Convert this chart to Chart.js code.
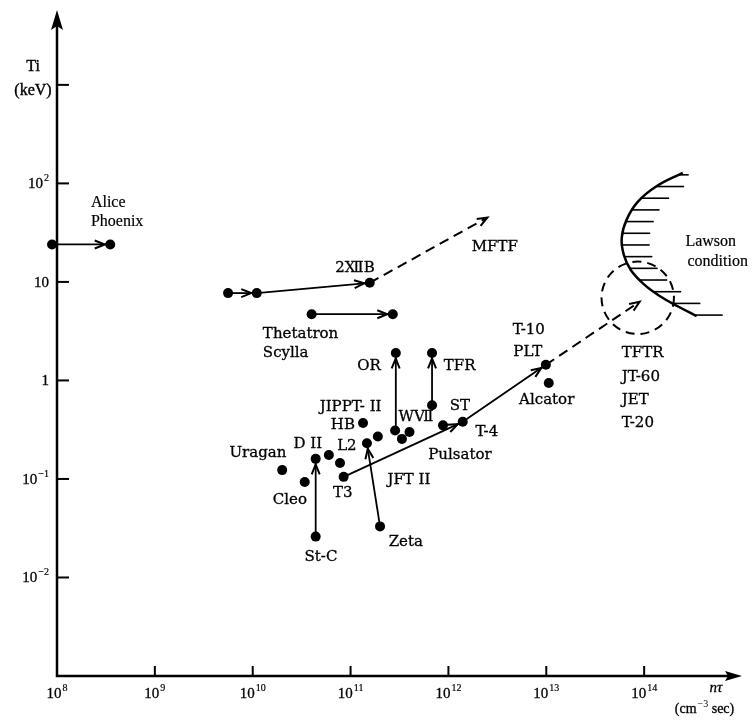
<!DOCTYPE html>
<html><head><meta charset="utf-8">
<script src="https://cdn.jsdelivr.net/npm/chart.js@4.4.0/dist/chart.umd.min.js"></script>
<style>html,body{margin:0;padding:0;background:#fff;}#wrap{width:753px;height:728px;}
.pre{position:absolute;left:-1000px;top:0;}
</style>
</head><body>
<span class="pre" style="font-family:'DejaVu Serif'">Pulsator ⅫⅦ</span>
<span class="pre" style="font-family:'Liberation Serif'">Phoenix 10</span>
<span class="pre" style="font-family:'Liberation Serif';font-style:italic">nτ</span>
<div id="wrap"><canvas id="c" width="753" height="728"></canvas></div>
<script>
// ---------- data (nτ in cm^-3 s, Ti in keV) ----------
const dotNT = [8.9e7, 3.5e8, 5.6e9, 1.1e10, 1.57e11, 4.0e10, 2.7e11, 2.9e11, 6.8e11, 6.8e11, 2.85e11, 3.35e11, 4.0e11, 1.34e11, 1.9e11, 1.47e11, 8.8e11, 1.4e12, 4.4e10, 6.0e10, 7.8e10, 8.5e10, 2.0e10, 3.4e10, 4.4e10, 2.0e11, 9.9e12, 1.06e13];
const dotTi = [24, 24, 7.7, 7.7, 9.8, 4.7, 4.7, 1.9, 1.9, 0.56, 0.31, 0.255, 0.30, 0.37, 0.27, 0.23, 0.35, 0.38, 0.16, 0.175, 0.145, 0.105, 0.123, 0.093, 0.026, 0.033, 1.44, 0.94];

const arrowFromNT = [8.9e7, 5.6e9, 1.1e10, 1.57e11, 4.0e10, 2.85e11, 6.8e11, 4.4e10, 2.0e11, 8.5e10, 1.4e12, 9.9e12];
const arrowFromTi = [24, 7.7, 7.7, 9.8, 4.7, 0.31, 0.56, 0.026, 0.033, 0.105, 0.38, 1.44];
const arrowToNT   = [3.5e8, 1.1e10, 1.57e11, 2.5e12, 2.7e11, 2.9e11, 6.8e11, 4.4e10, 1.47e11, 1.4e12, 9.9e12, 9.0e13];
const arrowToTi   = [24, 7.7, 9.8, 45, 4.7, 1.9, 1.9, 0.16, 0.23, 0.38, 1.44, 6.3];
const arrowDashed = [false, false, false, true, false, false, false, false, false, false, false, true];

const lawsonNT = [2.48e14, 1.35e14, 8.6e13, 6.6e13, 5.9e13, 6.2e13, 7.3e13, 9.9e13, 1.44e14, 2.25e14, 3.44e14];
const lawsonTi = [128, 94, 65, 42.6, 28, 18.8, 13.2, 9.5, 7.2, 5.6, 4.5];

const futureNT = 8.6e13;          // TFTR / JT-60 / JET / T-20 target region
const futureTi = 6.9;
const futureRadiusDecades = 0.37;

const labelText = ['Alice','Phoenix','2ⅫB','MFTF','Thetatron','Scylla','OR','TFR','JIPPT- II','HB','WⅦ','ST','T-4','Pulsator','JFT II','L2','D II','Uragan','Cleo','T3','St-C','Zeta','T-10','PLT','Alcator','TFTR','JT-60','JET','T-20','Lawson','condition'];
const labelNT = [2.22e8, 2.22e8, 1.11e11, 2.98e12, 1.27e10, 1.27e10, 1.54e11, 8.98e11, 1.0e11, 8.34e10, 4.65e11, 1.31e12, 2.47e12, 1.31e12, 3.95e11, 9.17e10, 3.66e10, 1.13e10, 2.40e10, 8.34e10, 4.98e10, 3.67e11, 6.62e12, 6.47e12, 1.01e13, 5.9e13, 5.9e13, 5.9e13, 5.9e13, 4.79e14, 5.65e14];
const labelTi = [63.4, 40.6, 13.9, 22.6, 2.96, 1.90, 1.40, 1.40, 0.538, 0.353, 0.426, 0.551, 0.30, 0.175, 0.0977, 0.216, 0.226, 0.184, 0.0612, 0.0721, 0.0161, 0.0229, 3.26, 1.95, 0.634, 1.90, 1.09, 0.634, 0.371, 25.5, 16.0];

const xTickValues = [1e8, 1e9, 1e10, 1e11, 1e12, 1e13, 1e14];
const xTickBase = ['10','10','10','10','10','10','10'];
const xTickSup  = ['8','9','10','11','12','13','14'];
const yTickValues = [1e-2, 1e-1, 1, 10, 100, 1000];
const yTickBase = ['10','10','1','10','10',''];
const yTickSup  = ['−2','−1','','','2',''];

// ---------- presentation ----------
const leftAligned = new Set(['Alice','Phoenix','Thetatron','Scylla','TFR','TFTR','JT-60','JET','T-20']);
const thinFont = new Set(['Alice','Phoenix','Lawson','condition']);
const LABEL_FONT = '15px "DejaVu Serif", "Liberation Serif", serif';
const THIN_FONT = '16px "Liberation Serif", serif';
const TICK_FONT = '15px "Liberation Serif", serif';
const SUP_FONT = '10px "Liberation Serif", serif';
const TEXT_FONT = '16px "Liberation Serif", serif';
const UNIT_FONT = '14px "Liberation Serif", serif';
const DOT_R = 5;

function isDot(x, y) {
  for (let i = 0; i < dotNT.length; i++) if (dotNT[i] === x && dotTi[i] === y) return true;
  return false;
}

function inkText(ctx, t, x, y, sw) {
  ctx.fillText(t, x, y);
  if (sw) { ctx.lineWidth = sw; ctx.strokeText(t, x, y); }
}

function drawPow(ctx, base, sup, x, y, align) {
  ctx.font = TICK_FONT;
  const wb = ctx.measureText(base).width;
  ctx.font = SUP_FONT;
  const ws = sup ? ctx.measureText(sup).width + 1 : 0;
  const w = wb + ws;
  let sx = align === 'center' ? x - w / 2 : align === 'right' ? x - w : x;
  ctx.textAlign = 'left';
  ctx.textBaseline = 'alphabetic';
  ctx.font = TICK_FONT;
  inkText(ctx, base, sx, y, 0.3);
  if (sup) { ctx.font = SUP_FONT; inkText(ctx, sup, sx + wb + 1, y - 7, 0.2); }
}

const figurePlugin = {
  id: 'figure',
  afterDatasetsDraw(chart) {
    const ctx = chart.ctx, xs = chart.scales.x, ys = chart.scales.y, ca = chart.chartArea;
    ctx.save();
    ctx.strokeStyle = '#000'; ctx.fillStyle = '#000';

    // arrowheads
    for (let k = 0; k < arrowFromNT.length; k++) {
      const meta = chart.getDatasetMeta(k + 1);
      const p0 = meta.data[0], p1 = meta.data[1];
      const dx = p1.x - p0.x, dy = p1.y - p0.y, len = Math.hypot(dx, dy);
      const ux = dx / len, uy = dy / len;
      const back = isDot(arrowToNT[k], arrowToTi[k]) ? DOT_R + 0.5 : 0;
      const tx = p1.x - ux * back, ty = p1.y - uy * back;
      const L = 10, W = 4;
      ctx.setLineDash([]);
      ctx.lineWidth = 2;
      ctx.beginPath();
      ctx.moveTo(tx - ux * L + uy * W, ty - uy * L - ux * W);
      ctx.lineTo(tx, ty);
      ctx.lineTo(tx - ux * L - uy * W, ty - uy * L + ux * W);
      ctx.stroke();
    }

    // Lawson hatching (evaluate the drawn spline)
    const lm = chart.getDatasetMeta(arrowFromNT.length + 1);
    const pts = lm.data;
    const samples = [];
    for (let i = 0; i < pts.length - 1; i++) {
      const a = pts[i], b = pts[i + 1];
      const c1x = a.cp2x ?? a.x, c1y = a.cp2y ?? a.y, c2x = b.cp1x ?? b.x, c2y = b.cp1y ?? b.y;
      for (let t = 0; t <= 1; t += 0.02) {
        const mt = 1 - t;
        samples.push({
          x: mt*mt*mt*a.x + 3*mt*mt*t*c1x + 3*mt*t*t*c2x + t*t*t*b.x,
          y: mt*mt*mt*a.y + 3*mt*mt*t*c1y + 3*mt*t*t*c2y + t*t*t*b.y
        });
      }
    }
    const yTop = pts[0].y, yBot = pts[pts.length - 1].y;
    const nH = 13;
    ctx.lineWidth = 1.6;
    for (let h = 0; h < nH; h++) {
      const hy = yTop + 2 + (yBot - yTop - 3) * h / (nH - 1);
      let hx = null;
      for (let s = 0; s < samples.length - 1; s++) {
        const a = samples[s], b = samples[s + 1];
        if ((a.y - hy) * (b.y - hy) <= 0 && a.y !== b.y) {
          hx = a.x + (b.x - a.x) * (hy - a.y) / (b.y - a.y);
          break;
        }
      }
      if (hx === null) continue;
      const len = h === 0 ? 10 : 28;
      ctx.beginPath(); ctx.moveTo(hx, hy); ctx.lineTo(hx + len, hy); ctx.stroke();
    }

    // dashed circle for next-generation devices
    const cx = xs.getPixelForValue(futureNT), cy = ys.getPixelForValue(futureTi);
    const r = xs.getPixelForValue(futureNT * Math.pow(10, futureRadiusDecades)) - cx;
    ctx.lineWidth = 2;
    ctx.setLineDash([9, 6]);
    ctx.beginPath(); ctx.arc(cx, cy, r, 0, Math.PI * 2); ctx.stroke();
    ctx.setLineDash([]);

    // axes
    ctx.lineWidth = 2.5;
    ctx.beginPath();
    ctx.moveTo(ca.left, ca.top + 14); ctx.lineTo(ca.left, ca.bottom); ctx.lineTo(ca.right - 12, ca.bottom);
    ctx.stroke();
    ctx.beginPath();
    ctx.moveTo(ca.left, ca.top); ctx.lineTo(ca.left - 6, ca.top + 20); ctx.lineTo(ca.left, ca.top + 16); ctx.lineTo(ca.left + 6, ca.top + 20); ctx.closePath(); ctx.fill();
    ctx.beginPath();
    ctx.moveTo(ca.right, ca.bottom); ctx.lineTo(ca.right - 17, ca.bottom - 5); ctx.lineTo(ca.right - 14, ca.bottom); ctx.lineTo(ca.right - 17, ca.bottom + 5); ctx.closePath(); ctx.fill();

    // ticks & tick labels
    xTickValues.forEach((v, i) => {
      const px = xs.getPixelForValue(v);
      if (i > 0) { ctx.lineWidth = 2; ctx.beginPath(); ctx.moveTo(px, ca.bottom); ctx.lineTo(px, ca.bottom - 10); ctx.stroke(); }
      drawPow(ctx, xTickBase[i], xTickSup[i], px, ca.bottom + 22, 'center');
    });
    yTickValues.forEach((v, i) => {
      const py = ys.getPixelForValue(v);
      ctx.lineWidth = 2;
      ctx.beginPath(); ctx.moveTo(ca.left, py); ctx.lineTo(ca.left + 12, py); ctx.stroke();
      if (yTickBase[i]) drawPow(ctx, yTickBase[i], yTickSup[i], ca.left - 8, py + 5, 'right');
    });

    // axis titles
    ctx.textAlign = 'center'; ctx.textBaseline = 'middle';
    ctx.font = TEXT_FONT;
    inkText(ctx, 'Ti', ca.left - 24, 67, 0.4);
    inkText(ctx, '(keV)', ca.left - 24, 91, 0.4);
    ctx.font = 'italic 15px "Liberation Serif", serif';
    inkText(ctx, 'nτ', ca.right - 26, ca.bottom + 12, 0.3);
    // (cm^-3 sec)
    ctx.textAlign = 'left'; ctx.textBaseline = 'alphabetic';
    ctx.font = UNIT_FONT;
    const s1 = '(cm', s3 = ' sec)';
    const w1 = ctx.measureText(s1).width, w3 = ctx.measureText(s3).width;
    ctx.font = SUP_FONT; const w2 = ctx.measureText('−3').width;
    let sx = ca.right - 38 - (w1 + w2 + w3) / 2;
    const by = ca.bottom + 37;
    ctx.font = UNIT_FONT; inkText(ctx, s1, sx, by, 0.3);
    ctx.font = SUP_FONT; ctx.fillText('−3', sx + w1 + 1, by - 6);
    ctx.font = UNIT_FONT; inkText(ctx, s3, sx + w1 + w2 + 1, by, 0.3);

    // device labels
    ctx.textBaseline = 'middle';
    labelText.forEach((t, i) => {
      const thin = thinFont.has(t);
      ctx.font = thin ? THIN_FONT : LABEL_FONT;
      ctx.textAlign = leftAligned.has(t) ? 'left' : 'center';
      inkText(ctx, t, xs.getPixelForValue(labelNT[i]), ys.getPixelForValue(labelTi[i]), thin ? 0.2 : 0.3);
    });
    ctx.restore();
  }
};

function build() {
  const datasets = [];
  datasets.push({
    type: 'scatter',
    data: dotNT.map((x, i) => ({ x, y: dotTi[i] })),
    pointRadius: DOT_R, pointHoverRadius: DOT_R, pointBackgroundColor: '#000', pointBorderWidth: 0,
    clip: false, order: 0
  });
  arrowFromNT.forEach((x, k) => {
    datasets.push({
      type: 'line',
      data: [{ x, y: arrowFromTi[k] }, { x: arrowToNT[k], y: arrowToTi[k] }],
      borderColor: '#000', borderWidth: arrowDashed[k] ? 2 : 1.8,
      borderDash: arrowDashed[k] ? [10, 6] : [],
      pointRadius: 0, fill: false, tension: 0, clip: false, order: 1
    });
  });
  datasets.push({
    type: 'line',
    data: lawsonNT.map((x, i) => ({ x, y: lawsonTi[i] })),
    borderColor: '#000', borderWidth: 2.5, pointRadius: 0, fill: false,
    tension: 0.4, clip: false, order: 1
  });

  new Chart(document.getElementById('c'), {
    type: 'scatter',
    data: { datasets },
    options: {
      responsive: false, animation: false, devicePixelRatio: 1,
      layout: { padding: { left: 57, right: 11, top: 10, bottom: 52 } },
      plugins: { legend: { display: false }, tooltip: { enabled: false } },
      events: [],
      scales: {
        x: { type: 'logarithmic', min: 1e8, max: 1e15, display: false },
        y: { type: 'logarithmic', min: 1e-3, max: Math.pow(10, 3.76), display: false }
      }
    },
    plugins: [figurePlugin]
  });
}

let built = false;
function go() { if (!built) { built = true; build(); } }
if (document.fonts && document.fonts.load) {
  Promise.all([
    document.fonts.load(LABEL_FONT, 'Pulsator ⅫⅦ'),
    document.fonts.load(TICK_FONT, '10'),
    document.fonts.load('italic 15px "Liberation Serif"', 'nτ')
  ]).then(() => document.fonts.ready).then(go, go);
  setTimeout(go, 1500);
} else { go(); }
</script></body></html>
